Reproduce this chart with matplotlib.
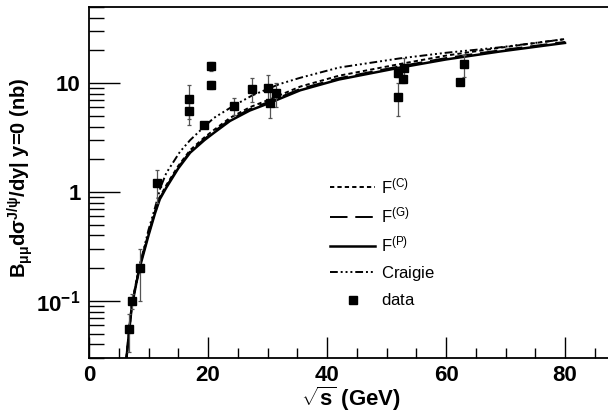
import matplotlib
matplotlib.use("Agg")
import matplotlib.pyplot as plt
from matplotlib.ticker import LogLocator, NullFormatter, MultipleLocator, FixedLocator, FixedFormatter

plt.rcParams['font.family'] = ['Liberation Sans', 'DejaVu Sans']
plt.rcParams['mathtext.fontset'] = 'custom'
plt.rcParams['mathtext.rm'] = 'Liberation Sans'
plt.rcParams['mathtext.bf'] = 'Liberation Sans:bold'
plt.rcParams['mathtext.it'] = 'Liberation Sans:italic'
plt.rcParams['mathtext.default'] = 'bf'

# J/psi measurements at y=0
sqrt_s = [6.7, 7.2, 8.6, 11.5, 16.8, 16.8, 19.4, 20.45, 20.45, 24.3,
          27.4, 30.0, 30.5, 31.5, 52.0, 52.0, 52.7, 52.9, 62.4, 63.0]
sigma = [0.055, 0.10, 0.20, 1.2, 7.2, 5.6, 4.1, 14.3, 9.6, 6.2,
         8.9, 9.1, 6.6, 8.1, 12.4, 7.5, 11.0, 13.8, 10.3, 14.9]
sigma_err = [0.021, 0.015, 0.10, 0.4, 2.5, 1.5, 0.2, 1.5, 0.8, 1.1,
             2.2, 2.7, 1.8, 2.0, 1.0, 2.5, 1.0, 3.3, 0.5, 3.4]

# model curves
f_x = [6.3, 6.7, 7.2, 8.0, 8.6, 10.0, 11.1, 11.9, 13.0, 15.0, 17.0, 19.4,
       21.0, 23.7, 27.0, 30.4, 35.5, 42.0, 52.3, 60.0, 69.0, 80.0]
fp_y = [0.03, 0.05, 0.09, 0.15, 0.21, 0.40, 0.64, 0.86, 1.1, 1.65, 2.3, 3.0,
        3.5, 4.5, 5.6, 6.6, 8.6, 10.8, 13.9, 16.5, 19.5, 23.4]
fg_y = [0.03, 0.051, 0.092, 0.153, 0.215, 0.41, 0.655, 0.88, 1.125, 1.69, 2.36, 3.08,
        3.6, 4.63, 5.77, 6.8, 8.86, 11.1, 14.3, 17.0, 20.0, 23.9]
fc_y = [0.03, 0.052, 0.094, 0.157, 0.22, 0.42, 0.67, 0.9, 1.16, 1.74, 2.43, 3.18,
        3.72, 4.8, 6.0, 7.1, 9.3, 11.7, 15.0, 17.9, 21.1, 25.4]
cr_x = [6.3, 7.2, 8.6, 10.0, 11.1, 12.0, 13.0, 15.3, 17.0, 19.4, 21.0,
        24.3, 27.4, 32.0, 35.5, 42.0, 52.3, 60.0, 69.0, 80.0]
cr_y = [0.03, 0.09, 0.22, 0.45, 0.72, 1.1, 1.5, 2.35, 3.0, 4.0, 4.8,
        6.2, 7.7, 9.8, 11.2, 13.9, 16.9, 19.0, 21.3, 25.3]

y_ticks = [0.1, 1, 10]
y_tick_labels = [r'10$^{-1}$', '1', '10']
x_ticks = [0, 20, 40, 60, 80]

fig = plt.figure(figsize=(6.08, 4.13), dpi=100)
ax = fig.add_axes([89 / 608, 55 / 413, 90 * 5.95 / 608, 351 / 413])

ax.plot(f_x, fc_y, color='black', lw=1.4, ls=(0, (2.2, 1.6)), label=r'F$^{\mathrm{(C)}}$')
ax.plot(f_x, fg_y, color='black', lw=1.4, ls=(0, (9, 4)), label=r'F$^{\mathrm{(G)}}$')
ax.plot(f_x, fp_y, color='black', lw=1.8, ls='-', label=r'F$^{\mathrm{(P)}}$')
ax.plot(cr_x, cr_y, color='black', lw=1.4, ls=(0, (4, 1.5, 1, 1.5, 1, 1.5, 1, 1.5)),
        label=r'$\mathrm{Craigie}$')
eb = ax.errorbar(sqrt_s, sigma, yerr=sigma_err, fmt='s', color='black', ms=5.5,
                 ecolor='#555555', elinewidth=0.9, capsize=1.5, capthick=0.9)

ax.set_yscale('log')
ax.set_xlim(0, 90)
ax.set_ylim(0.03, 50)

ax.xaxis.set_major_locator(FixedLocator(x_ticks))
ax.xaxis.set_minor_locator(MultipleLocator(5))
ax.yaxis.set_major_locator(FixedLocator(y_ticks))
ax.yaxis.set_major_formatter(FixedFormatter(y_tick_labels))
ax.yaxis.set_minor_locator(LogLocator(base=10, subs=range(2, 10)))
ax.yaxis.set_minor_formatter(NullFormatter())

ax.tick_params(axis='x', which='major', direction='in', length=15, width=1.0,
               labelsize=16, pad=5, top=False)
ax.tick_params(axis='x', which='minor', direction='in', length=7.5, width=1.0, top=False)
ax.tick_params(axis='y', which='major', direction='in', length=22, width=1.0,
               labelsize=16, pad=6, right=False)
ax.tick_params(axis='y', which='minor', direction='in', length=11, width=1.0, right=False)
for lab in ax.get_xticklabels() + ax.get_yticklabels():
    lab.set_fontweight('bold')

for s in ['left', 'bottom', 'top']:
    ax.spines[s].set_linewidth(1.3)
ax.spines['right'].set_visible(False)

ax.set_xlabel(r'$\sqrt{s}$ (GeV)', fontsize=16, fontweight='bold')
ax.xaxis.set_label_coords(0.489, -0.075)
ax.set_ylabel(r'B$_{\mu\mu}$d$\sigma^{J/\psi}$/dy| y=0 (nb)', fontsize=14.5, fontweight='bold')
ax.yaxis.set_label_coords(-0.10, 0.515)

handles, labels = ax.get_legend_handles_labels()
handles.append(eb.lines[0])
labels.append(r'$\mathrm{data}$')
leg = ax.legend(handles, labels, loc='upper left',
                bbox_to_anchor=((325 - 89 - 8) / 535.5, (358 - 163) / 351),
                frameon=False, fontsize=12, handlelength=2.7, handletextpad=0.35,
                labelspacing=0.56, borderpad=0.3)
for t in leg.get_texts():
    t.set_fontweight('normal')

fig.savefig('out.png', dpi=100)
